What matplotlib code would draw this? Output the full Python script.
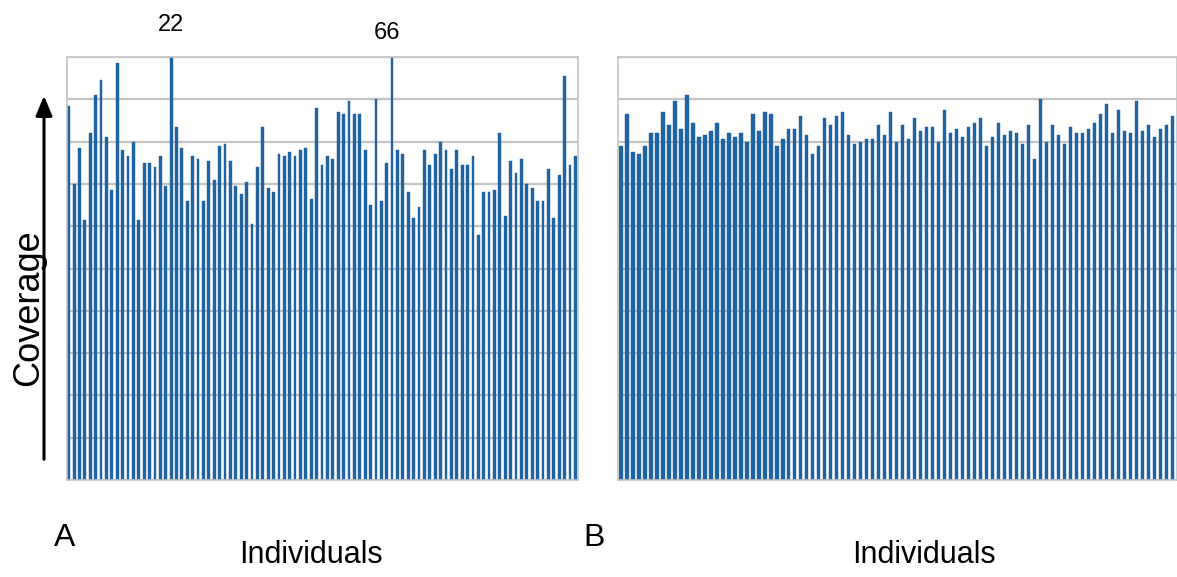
import matplotlib.pyplot as plt
from matplotlib.patches import FancyArrowPatch
import numpy as np

# Coverage per individual, panel A (before) and panel B (after)
cov_a = [17.7, 14.0, 15.7, 12.3, 16.4, 18.2, 18.9, 16.2, 13.7, 19.7,
         15.6, 15.3, 16.0, 12.3, 15.0, 15.0, 14.8, 15.3, 13.9, 22,
         16.7, 15.7, 13.2, 15.3, 15.2, 13.2, 15.1, 14.2, 15.8, 15.9,
         15.1, 13.9, 13.5, 14.1, 12.1, 14.8, 16.7, 13.8, 13.6, 15.4,
         15.3, 15.5, 15.3, 15.6, 15.7, 13.3, 17.6, 14.9, 15.3, 15.2,
         17.4, 17.3, 17.9, 17.3, 17.3, 15.6, 13.0, 18.0, 13.2, 15.0,
         66, 15.6, 15.4, 13.6, 12.4, 12.9, 15.6, 14.9, 15.4, 16.0,
         15.6, 14.7, 15.6, 14.9, 14.9, 15.3, 11.6, 13.6, 13.6, 13.7,
         16.4, 12.5, 15.1, 14.5, 15.2, 14.0, 13.8, 13.2, 13.2, 14.7,
         12.4, 14.4, 19.1, 14.9, 15.3]

cov_b = [15.8, 17.3, 15.5, 15.4, 15.8, 16.4, 16.4, 17.4, 16.8, 17.9,
         16.6, 18.2, 16.9, 16.2, 16.3, 16.5, 16.9, 16.1, 16.4, 16.2,
         16.4, 16.0, 17.3, 16.5, 17.4, 17.3, 15.8, 16.1, 16.6, 16.6,
         17.2, 16.3, 15.4, 15.8, 17.1, 16.8, 17.2, 17.4, 16.3, 15.9,
         16.0, 16.1, 16.1, 16.8, 16.3, 17.4, 16.0, 16.8, 16.1, 17.1,
         16.5, 16.7, 16.7, 16.0, 17.5, 16.4, 16.6, 16.2, 16.7, 16.9,
         17.1, 15.8, 16.2, 16.9, 16.3, 16.5, 16.4, 15.9, 16.8, 15.2,
         18.0, 16.0, 16.8, 16.3, 15.9, 16.7, 16.4, 16.4, 16.6, 16.9,
         17.3, 17.8, 16.4, 17.5, 16.5, 16.4, 17.9, 16.5, 16.8, 16.2,
         16.6, 16.8, 17.2]

ymax = 20
bar_color = "#1f63a3"
grid_color = "#c4c4c4"
plt.rcParams["font.family"] = ["Liberation Sans", "DejaVu Sans"]

# offsets (points) of the labels written over clipped bars
label_offsets = {22: (0, 23), 66: (-4, 17)}

fig = plt.figure(figsize=(11.77, 5.77), dpi=100)
ax_a = fig.add_axes([67 / 1177, 97 / 577, 511 / 1177, 423 / 577])
ax_b = fig.add_axes([618 / 1177, 97 / 577, 559 / 1177, 423 / 577])


def draw_panel(ax, values, xlim):
    x = np.arange(1, len(values) + 1)
    ax.set_axisbelow(True)
    ax.bar(x, values, width=0.52, color=bar_color, edgecolor=bar_color, linewidth=0.3)
    ax.set_xlim(*xlim)
    ax.set_ylim(0, ymax)
    ax.set_yticks(np.arange(0, ymax + 1, 2))
    ax.set_xticks([])
    ax.tick_params(axis="y", length=0, labelleft=False)
    ax.grid(axis="y", color=grid_color, linewidth=1.6)
    for s in ax.spines.values():
        s.set_color(grid_color)
        s.set_linewidth(1.2)
    # values above the axis limit are clipped and written on top
    for xi, v in zip(x, values):
        if v > ymax:
            ax.annotate(f"{v:g}", (xi, ymax), xytext=label_offsets.get(v, (0, 20)),
                        textcoords="offset points", ha="center", va="center", fontsize=17)


draw_panel(ax_a, cov_a, (0.68, 95.5))
draw_panel(ax_b, cov_b, (0.5, 93.7))

fig.text(29 / 1177, 1 - 308 / 577, "Coverage", rotation=90, ha="center", va="center",
         fontsize=26)
fig.add_artist(FancyArrowPatch(
    (44 / 1177, 1 - 462 / 577), (44 / 1177, 1 - 93 / 577), transform=fig.transFigure,
    arrowstyle="-|>,head_length=0.6,head_width=0.25", mutation_scale=20,
    color="black", linewidth=2.2))

fig.text(65 / 1177, 1 - 538 / 577, "A", ha="center", va="center", fontsize=23)
fig.text(594 / 1177, 1 - 538 / 577, "B", ha="center", va="center", fontsize=23)
fig.text(311 / 1177, 1 - 555 / 577, "Individuals", ha="center", va="center", fontsize=22)
fig.text(924 / 1177, 1 - 555 / 577, "Individuals", ha="center", va="center", fontsize=22)

fig.savefig("out.png", dpi=100)
